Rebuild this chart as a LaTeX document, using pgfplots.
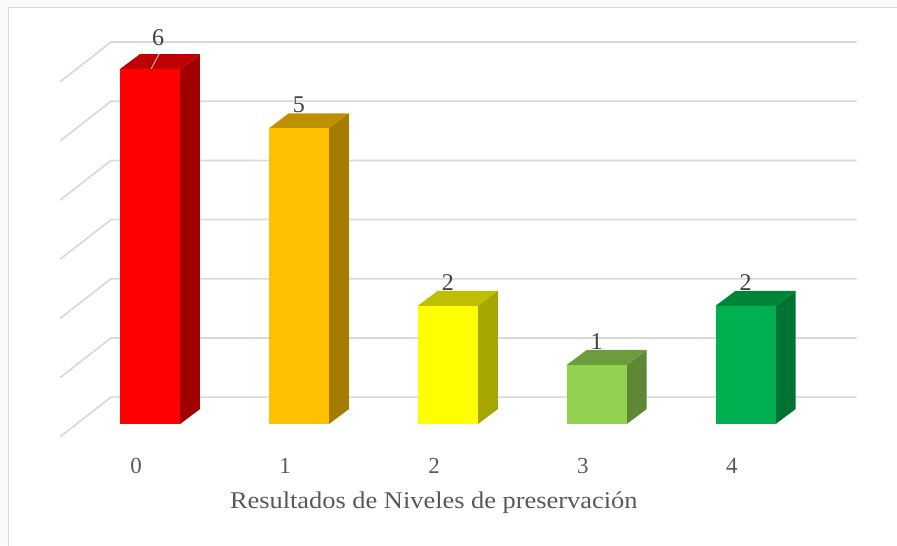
\documentclass[border=0pt]{standalone}
\usepackage{pgfplots}
\pgfplotsset{compat=1.18}
\usepackage{fontspec}
\setmainfont{Liberation Serif}
\newfontfamily\cam[FakeStretch=1.1]{Liberation Serif}
\definecolor{gridc}{HTML}{D9D9D9}
\definecolor{outer}{HTML}{FAFAFA}
\definecolor{txta}{HTML}{595959}
\definecolor{txtb}{HTML}{404040}
\definecolor{fa}{HTML}{FF0000}\definecolor{ta}{HTML}{C00000}\definecolor{sa}{HTML}{A00000}
\definecolor{fb}{HTML}{FFC000}\definecolor{tb}{HTML}{BF9000}\definecolor{sb}{HTML}{A67C00}
\definecolor{fc}{HTML}{FFFF00}\definecolor{tc}{HTML}{BFBF00}\definecolor{sc}{HTML}{A6A600}
\definecolor{fd}{HTML}{92D050}\definecolor{td}{HTML}{6E9C3C}\definecolor{sd}{HTML}{5F8734}
\definecolor{fe}{HTML}{00B050}\definecolor{te}{HTML}{008438}\definecolor{se}{HTML}{007234}
\begin{document}
\begin{tikzpicture}
\begin{axis}[
  scale only axis, width=897pt, height=545pt,
  xmin=-1.00739, xmax=5.01679, ymin=-2.0449, ymax=7.1658,
  axis line style={draw=none}, major tick length=0pt,
  ytick=\empty,
  xtick={0,1,2,3,4}, xticklabels={0,1,2,3,4},
  xticklabel style={font=\fontsize{23}{26}\selectfont, text=txta, anchor=center, xshift=-13.8pt, yshift=79pt},
  xlabel={Resultados de Niveles de preservación},
  xlabel style={font=\cam\fontsize{24}{26}\selectfont, text=txta, anchor=center, at={(axis cs:1.906,-1.335)}},
  /pgf/number format/assume math mode=true,
  ybar, bar width=60pt, bar shift=0pt,
  nodes near coords,
  every node near coord/.append style={font=\fontsize{24}{26}\selectfont, text=txtb, anchor=center, yshift=23pt},
]
\fill[outer] (rel axis cs:0,0) rectangle (rel axis cs:0.0095,1);
\fill[outer] (rel axis cs:0,0.9862) rectangle (rel axis cs:1,1);
\draw[gridc, line width=1.5pt] (rel axis cs:0.0095,-0.01) -- (rel axis cs:0.0095,0.9862) -- (rel axis cs:1.01,0.9862);
\pgfplotsset{every axis plot/.append style={forget plot}}
% walls
\addplot[sharp plot, no markers, nodes near coords={}, draw=gridc, line width=1.7pt, fill=none] coordinates {(-0.604,-0.2146)(-0.2617,0.4563)(4.745,0.4563)};
\addplot[sharp plot, no markers, nodes near coords={}, draw=gridc, line width=1.7pt, fill=none] coordinates {(-0.604,0.7854)(-0.2617,1.4563)(4.745,1.4563)};
\addplot[sharp plot, no markers, nodes near coords={}, draw=gridc, line width=1.7pt, fill=none] coordinates {(-0.604,1.7854)(-0.2617,2.4563)(4.745,2.4563)};
\addplot[sharp plot, no markers, nodes near coords={}, draw=gridc, line width=1.7pt, fill=none] coordinates {(-0.604,2.7854)(-0.2617,3.4563)(4.745,3.4563)};
\addplot[sharp plot, no markers, nodes near coords={}, draw=gridc, line width=1.7pt, fill=none] coordinates {(-0.604,3.7854)(-0.2617,4.4563)(4.745,4.4563)};
\addplot[sharp plot, no markers, nodes near coords={}, draw=gridc, line width=1.7pt, fill=none] coordinates {(-0.604,4.7854)(-0.2617,5.4563)(4.745,5.4563)};
\addplot[sharp plot, no markers, nodes near coords={}, draw=gridc, line width=1.7pt, fill=none] coordinates {(-0.604,5.7854)(-0.2617,6.4563)(4.745,6.4563)};
% bar 0
\addplot[sharp plot, no markers, nodes near coords={}, draw=none, fill=sa] coordinates {(0.2013,0)(0.3356,0.2535)(0.3356,6.2535)(0.2013,6)} --cycle;
\addplot[sharp plot, no markers, nodes near coords={}, draw=none, fill=ta] coordinates {(-0.2013,6)(-0.0671,6.2535)(0.3356,6.2535)(0.2013,6)} --cycle;
\addplot[sharp plot, no markers, nodes near coords={}, draw=black!35, line width=1.2pt] coordinates {(0.0067,6)(0.0604,6.2535)};
\addplot[fill=fa, draw=none, every node near coord/.append style={xshift=8pt, yshift=8pt}] coordinates {(0,6)};
% bar 1
\addplot[sharp plot, no markers, nodes near coords={}, draw=none, fill=sb] coordinates {(1.2013,0)(1.3356,0.2535)(1.3356,5.2535)(1.2013,5)} --cycle;
\addplot[sharp plot, no markers, nodes near coords={}, draw=none, fill=tb] coordinates {(0.7987,5)(0.9329,5.2535)(1.3356,5.2535)(1.2013,5)} --cycle;
\addplot[fill=fb, draw=none] coordinates {(1,5)};
% bar 2
\addplot[sharp plot, no markers, nodes near coords={}, draw=none, fill=sc] coordinates {(2.2013,0)(2.3356,0.2535)(2.3356,2.2535)(2.2013,2)} --cycle;
\addplot[sharp plot, no markers, nodes near coords={}, draw=none, fill=tc] coordinates {(1.7987,2)(1.9329,2.2535)(2.3356,2.2535)(2.2013,2)} --cycle;
\addplot[fill=fc, draw=none] coordinates {(2,2)};
% bar 3
\addplot[sharp plot, no markers, nodes near coords={}, draw=none, fill=sd] coordinates {(3.2013,0)(3.3356,0.2535)(3.3356,1.2535)(3.2013,1)} --cycle;
\addplot[sharp plot, no markers, nodes near coords={}, draw=none, fill=td] coordinates {(2.7987,1)(2.9329,1.2535)(3.3356,1.2535)(3.2013,1)} --cycle;
\addplot[fill=fd, draw=none] coordinates {(3,1)};
% bar 4
\addplot[sharp plot, no markers, nodes near coords={}, draw=none, fill=se] coordinates {(4.2013,0)(4.3356,0.2535)(4.3356,2.2535)(4.2013,2)} --cycle;
\addplot[sharp plot, no markers, nodes near coords={}, draw=none, fill=te] coordinates {(3.7987,2)(3.9329,2.2535)(4.3356,2.2535)(4.2013,2)} --cycle;
\addplot[fill=fe, draw=none] coordinates {(4,2)};
\end{axis}
\end{tikzpicture}
\end{document}
